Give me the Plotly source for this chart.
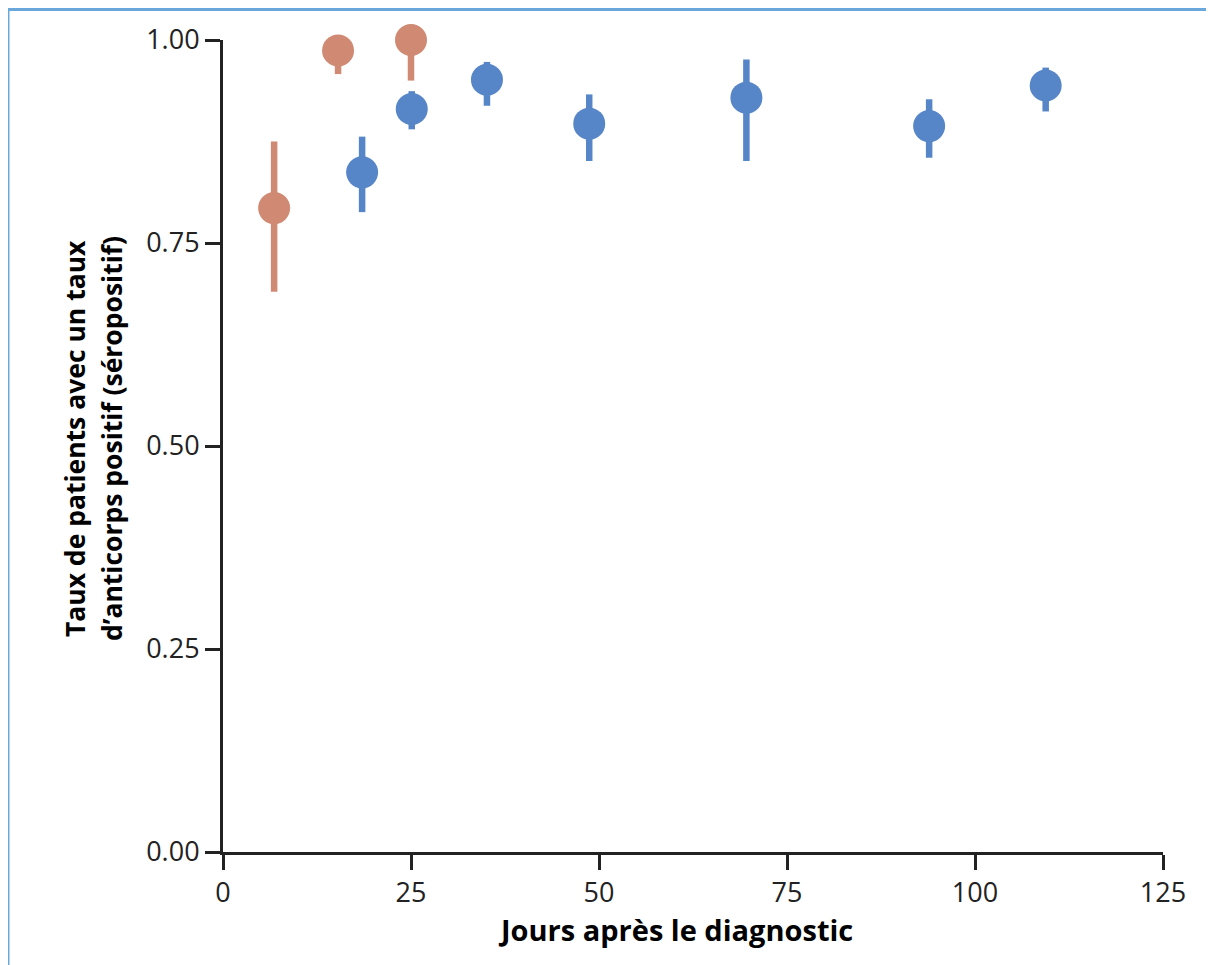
import plotly.graph_objects as go

# Data
orange_x = [6.8, 15.3, 25.0]
orange_y = [0.793, 0.987, 1.0]
orange_hi = [0.875, 0.99, 1.0]
orange_lo = [0.690, 0.958, 0.950]

blue_x = [18.5, 25.1, 35.1, 48.7, 69.6, 93.9, 109.4]
blue_y = [0.837, 0.915, 0.951, 0.897, 0.929, 0.894, 0.944]
blue_hi = [0.881, 0.937, 0.973, 0.933, 0.976, 0.927, 0.966]
blue_lo = [0.788, 0.890, 0.919, 0.851, 0.851, 0.855, 0.912]

x_ticks = [0, 25, 50, 75, 100, 125]
y_ticks = [0, 0.25, 0.5, 0.75, 1.0]

x_title = "Jours après le diagnostic"
y_title_1 = "Taux de patients avec un taux"
y_title_2 = "d’anticorps positif (séropositif)"

ORANGE = "#D08A73"
BLUE = "#5786C8"

OFF = 8  # page body margin
W, H = 1214, 965
# desired screen pixels: x0=223, x125=1163, y1=39.5, y0=852.3
L, R = 223 - OFF, W - (1163 - OFF)
T, B = 39.5 - OFF, H - (852.3 - OFF)
pw, ph = W - L - R, H - T - B


def px_x(p):
    return (p - OFF - L) / pw


def px_y(p):
    return (H - B - (p - OFF)) / ph


def err_trace(xs, ys, hi, lo, color):
    return go.Scatter(
        x=xs, y=ys, mode="markers",
        marker=dict(size=32, color=color, line=dict(width=0)),
        error_y=dict(type="data", symmetric=False,
                     array=[h - y for h, y in zip(hi, ys)],
                     arrayminus=[y - l for y, l in zip(ys, lo)],
                     color=color, thickness=6.5, width=0),
        cliponaxis=False, showlegend=False, hoverinfo="x+y",
    )


fig = go.Figure()
fig.add_trace(err_trace(orange_x, orange_y, orange_hi, orange_lo, ORANGE))
fig.add_trace(err_trace(blue_x, blue_y, blue_hi, blue_lo, BLUE))

axis_common = dict(
    showline=True, linewidth=3, linecolor="#222222",
    ticks="outside", ticklen=15, tickwidth=3, tickcolor="#222222",
    showgrid=False, zeroline=False,
    tickfont=dict(family="Open Sans", size=27, color="#222222"),
)

fig.update_xaxes(range=[0, 125], tickvals=x_ticks, **axis_common)
fig.update_yaxes(range=[0, 1], tickvals=y_ticks, tickformat=".2f", **axis_common)

fig.add_annotation(
    text=x_title, xref="paper", yref="paper",
    x=px_x(675), y=px_y(930), xanchor="center", yanchor="middle",
    showarrow=False,
    font=dict(family="Open Sans", size=29, color="#000000", weight="bold"),
)
for txt, cx in ((y_title_1, 75), (y_title_2, 112)):
    fig.add_annotation(
        text=txt, xref="paper", yref="paper",
        x=px_x(cx), y=px_y(439), xanchor="center", yanchor="middle",
        textangle=-90, showarrow=False,
        font=dict(family="Open Sans", size=26.5, color="#000000", weight="bold"),
    )

# light blue frame lines (top and left)
BORDER = "#6AA8DC"
fig.add_shape(type="line", xref="paper", yref="paper",
              x0=px_x(7), x1=px_x(1230), y0=px_y(9), y1=px_y(9),
              line=dict(color=BORDER, width=3))
fig.add_shape(type="line", xref="paper", yref="paper",
              x0=px_x(8), x1=px_x(8), y0=px_y(8), y1=px_y(980),
              line=dict(color=BORDER, width=3))

fig.update_layout(
    width=W, height=H,
    margin=dict(l=L, r=R, t=T, b=B, autoexpand=False),
    paper_bgcolor="white", plot_bgcolor="white",
)

fig.write_html("out.html")
